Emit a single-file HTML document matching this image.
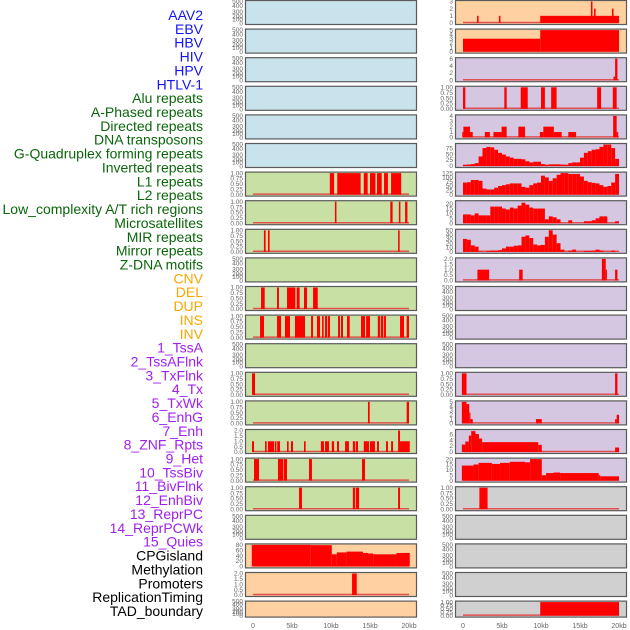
<!DOCTYPE html>
<html><head><meta charset="utf-8">
<style>
html,body{margin:0;padding:0;background:#fff;width:630px;height:630px;overflow:hidden}
svg{display:block}
</style></head>
<body>
<svg id="chart" width="630" height="630" xmlns="http://www.w3.org/2000/svg"></svg>
<script>
// ---------- labels ----------
const blueLabels = ["AAV2","EBV","HBV","HIV","HPV","HTLV-1"];
const greenLabels = ["Alu repeats","A-Phased repeats","Directed repeats","DNA transposons","G-Quadruplex forming repeats","Inverted repeats","L1 repeats","L2 repeats","Low_complexity A/T rich regions","Microsatellites","MIR repeats","Mirror repeats","Z-DNA motifs"];
const orangeLabels = ["CNV","DEL","DUP","INS","INV"];
const purpleLabels = ["1_TssA","2_TssAFlnk","3_TxFlnk","4_Tx","5_TxWk","6_EnhG","7_Enh","8_ZNF_Rpts","9_Het","10_TssBiv","11_BivFlnk","12_EnhBiv","13_ReprPC","14_ReprPCWk","15_Quies"];
const blackLabels = ["CPGisland","Methylation","Promoters","ReplicationTiming","TAD_boundary"];
const xTickValues = [0,5,10,15,20];
const xTickLabels = ["0","5kb","10kb","15kb","20kb"];

// ---------- tick label arrays ----------
const ticksEmpty = ["0","100","200","300","400","500"];
const ticks1 = ["0.00","0.25","0.50","0.75","1.00"];
const ticks2 = ["0.0","0.5","1.0","1.5","2.0"];
const ticks3 = ["0","1","2","3"];
const ticks4 = ["0","1","2","3","4"];
const ticks5 = ["0","1","2","3","4","5"];
const ticks6 = ["0","2","4","6"];
const ticks75 = ["0","25","50","75"];
const ticks125 = ["0","25","50","75","100","125"];
const ticks20 = ["0","5","10","15","20"];
const ticks50 = ["0","10","20","30","40","50"];
const ticks80 = ["0","20","40","60","80"];

// ---------- right-column data: [startKb, endKb, value] ----------
const aav2Segs = [[1.8,2.0,1],[4.6,4.8,1],[9.9,20,1],[16.4,16.6,3],[16.8,17.0,2],[19.1,19.3,2]];
const ebvSegs = [[0,9.9,3],[9.9,20,5]];
const hbvSegs = [[19.3,19.5,1],[19.5,19.8,6]];
const hivSegs = [[0,0.3,1],[5.3,5.6,1],[7.4,8.3,1],[10,10.5,1],[11.3,12,1],[17.2,17.7,1],[19.2,19.7,1]];
const hpvSegs = [[-0.1,0.05,1],[0.05,0.9,2],[0.9,1.25,1],[2.8,3.45,1],[3.9,4.95,1],[4.95,5.6,2],[7.1,7.95,2],[9.85,10.3,1],[10.3,11.65,2],[11.65,12.65,1],[13.5,14.5,1],[19.25,19.7,4],[19.7,19.9,1]];
const g4Profile = [5,6,8,12,40,75,80,78,68,55,48,40,35,30,30,28,20,15,18,18,8,5,7,7,7,6,5,12,15,15,35,55,62,68,70,80,90,90,75,30];
const invertedProfile = [70,72,85,85,80,35,30,30,40,50,55,60,65,65,65,45,40,55,65,70,110,100,80,95,115,125,125,120,120,120,105,80,72,68,65,55,45,50,70,120];
const lowCplxProfile = [9,9,8,10,8,8,8,17,17,17,15,14,16,15,18,21,19,16,15,15,15,4,7,6,4,0,0,3,0,0,0,2,2,3,5,7,7,0,0,2];
const mirProfile = [30,28,15,12,1,0,2,3,3,4,8,12,12,14,15,35,38,32,17,15,16,35,50,40,20,5,0,3,5,0,0,2,2,3,5,3,0,0,3,0];
const zdnaSegs = [[1.85,3.35,1],[7.2,7.65,1],[17.8,18.3,2],[18.3,18.45,1],[19.5,19.8,1]];
const tssaRSegs = [[-0.15,0.45,1],[19.5,19.8,1]];
const txflnkRSegs = [[-0.15,0.45,5],[0.45,0.8,4.5],[0.8,0.95,2.5],[0.95,1.25,1],[9.35,10.1,1],[19.5,19.7,1],[19.7,20,2]];
const enhgRSegs = [[-0.15,0.3,2.5],[0.3,0.75,3.5],[0.75,1.05,5.5],[1.05,1.6,7],[1.6,2.05,6],[2.05,2.45,4.5],[2.45,9.65,3.3],[9.65,10.1,2.4],[19.5,20,1.5]];
const znfRSegs = [[-0.15,1.35,14],[1.35,2.0,15],[2.0,3.7,16.5],[3.7,4.75,15.5],[4.75,6.0,16.5],[6.0,7.95,17.5],[7.95,8.6,17],[8.6,10.1,20],[10.1,10.65,5],[10.65,11.6,7],[11.6,12.45,7.5],[12.45,17.4,7],[17.4,17.6,5],[17.6,20,4]];
const tssbivRSegs = [[2.1,3.15,1]];
const tadSegs = [[9.9,20,1]];

// ---------- left-column data ----------
const l1Segs = [[9.85,10.4,1],[10.8,13.8,1],[14.2,14.7,1],[15.0,15.7,1],[15.9,16.5,1],[16.8,17.3,1],[17.7,19.0,1]];
const l2Segs = [[10.5,10.7,1],[17.6,17.9,1],[18.7,18.9,1],[19.5,19.8,1]];
const lowCplxLSegs = [[1.4,1.62,1],[1.92,2.13,1],[18.6,18.8,1]];
const mirrorSegs = [[1.03,1.5,1],[3.08,3.33,1],[4.36,5.43,1],[5.6,5.98,1],[6.54,6.92,1],[7.7,8.3,1]];
const zdnaLSegs = [[0.9,1.41,1],[3.08,3.6,1],[4.1,4.74,1],[5.38,6.67,1],[7.44,7.7,1],[8.2,8.6,1],[8.85,9.06,1],[9.23,9.5,1],[9.6,9.87,1],[10.9,11.15,1],[11.28,11.54,1],[12.05,12.4,1],[13.85,14.36,1],[14.5,15.0,1],[16.0,16.3,1],[16.4,16.7,1],[16.8,17.05,1],[18.85,19.36,1],[19.7,20,1]];
const tssaLSegs = [[-0.13,0.26,1]];
const txflnkLSegs = [[14.74,14.96,1],[19.7,20,1]];
const enhgLSegs = [[-0.13,0.13,1],[1.54,1.75,1],[1.92,2.7,1],[2.8,3.0,1],[3.1,3.46,1],[4.36,4.57,1],[4.87,5.13,1],[6.54,6.75,1],[8.7,9.1,1],[9.23,9.74,1],[10.1,10.4,1],[10.77,11.03,1],[11.8,12.3,1],[12.8,13.1,1],[13.2,13.46,1],[14.2,14.87,1],[15.0,15.64,1],[15.9,16.15,1],[17.05,17.3,1],[17.7,17.95,1],[18.6,18.85,2],[18.85,20.1,1]];
const enhLSegs = [[0.13,0.77,1],[3.2,3.85,1],[3.93,4.36,1],[7.18,7.56,1],[13.97,14.36,1]];
const znfLSegs = [[5.9,6.28,1],[12.8,13.1,1],[13.2,13.6,1],[18.6,18.85,1]];
const cpgSegs = [[-0.15,7.4,80],[7.4,10.1,79],[10.1,10.75,45],[10.75,12.0,52],[12.0,14.1,55],[14.1,14.75,50],[14.75,15.4,48],[15.4,18.4,45],[18.4,20.1,50]];
const promoterSegs = [[12.7,13.3,2]];

function profileToSegs(p){ const s=[]; for(let i=0;i<p.length;i++){ s.push([i*0.5,i*0.5+0.5,p[i]]); } return s; }

const BG = {blue:"#c8e3eb",peach:"#ffd0a0",lav:"#d5c6e2",green:"#c8e0a3",gray:"#d0d0d0"};
const E = null;
// [leftBg, leftSegs, leftTicks, leftMax, rightBg, rightSegs, rightTicks, rightMax]
const rows = [
 ["blue",E,E,0,"peach",aav2Segs,ticks3,3],
 ["blue",E,E,0,"peach",ebvSegs,ticks5,5],
 ["blue",E,E,0,"lav",hbvSegs,ticks6,6],
 ["blue",E,E,0,"lav",hivSegs,ticks1,1],
 ["blue",E,E,0,"lav",hpvSegs,ticks4,4],
 ["blue",E,E,0,"lav",profileToSegs(g4Profile),ticks75,90],
 ["green",l1Segs,ticks1,1,"lav",profileToSegs(invertedProfile),ticks125,125],
 ["green",l2Segs,ticks1,1,"lav",profileToSegs(lowCplxProfile),ticks20,22],
 ["green",lowCplxLSegs,ticks1,1,"lav",profileToSegs(mirProfile),ticks50,50],
 ["green",E,E,0,"lav",zdnaSegs,ticks2,2],
 ["green",mirrorSegs,ticks1,1,"lav",E,E,0],
 ["green",zdnaLSegs,ticks1,1,"lav",E,E,0],
 ["green",E,E,0,"lav",E,E,0],
 ["green",tssaLSegs,ticks1,1,"lav",tssaRSegs,ticks1,1],
 ["green",txflnkLSegs,ticks1,1,"lav",txflnkRSegs,ticks5,5],
 ["green",enhgLSegs,ticks2,2,"lav",enhgRSegs,ticks6,7.2],
 ["green",enhLSegs,ticks1,1,"lav",znfRSegs,ticks20,20],
 ["green",znfLSegs,ticks1,1,"gray",tssbivRSegs,ticks1,1],
 ["green",E,E,0,"gray",E,E,0],
 ["peach",cpgSegs,ticks80,80,"gray",E,E,0],
 ["peach",promoterSegs,ticks2,2,"gray",E,E,0],
 ["peach",E,E,0,"gray",tadSegs,ticks1,1]
];

const NS="http://www.w3.org/2000/svg";
const svg=document.getElementById("chart");
function mk(tag,attrs,parent){ const e=document.createElementNS(NS,tag); for(const k in attrs) e.setAttribute(k,attrs[k]); (parent||svg).appendChild(e); return e; }

// labels
const labelGroups=[[blueLabels,"#1414f5"],[greenLabels,"#0b660b"],[orangeLabels,"#ffa500"],[purpleLabels,"#a020f0"],[blackLabels,"#000"]];
let li=0;
labelGroups.forEach(g=>{ g[0].forEach(txt=>{
  const t=mk("text",{x:203,y:15+li*13.86+5,"text-anchor":"end","font-family":"Liberation Sans, sans-serif","font-size":"14",fill:g[1]});
  t.textContent=txt;
  
  
  li++;
});});

const PW=172;
function xScale(x0,kb){ return x0+8+kb*7.8; }

function drawPanel(x0,top,h,bg,segs,ticks,ymax,side){
  const g=mk("g",{});
  
  
  mk("rect",{x:x0+0.5,y:top+0.5,width:PW-1,height:h-1,fill:BG[bg],stroke:"#5a5a5a","stroke-width":"1.2"},g);
  const tg=mk("g",{"font-family":"Liberation Sans, sans-serif","font-size":"6.5",fill:"#666","text-anchor":"end"},g);
  
  
  if(!segs){
    const offs=[h-1.5,h-5.5,h-8.5,h-13,h-19,h-23.5];
    const scale=h/25;
    ticksEmpty.forEach((lab,i)=>{
      const yy=top+(i===0?h-1.5:(25-[0,5.5,8.5,13,19,23.5][i])*scale)+2;
      const t=mk("text",{x:x0-2,y:yy},tg); t.textContent=lab;
    });
    return;
  }
  const yb=top+h-2, yt=top+1.5;
  const yS=v=>yb-(v/ymax)*(yb-yt);
  ticks.forEach(lab=>{
    const t=mk("text",{x:x0-2,y:yS(parseFloat(lab))+2.2},tg); t.textContent=lab;
  });
  mk("line",{x1:xScale(x0,0),x2:xScale(x0,20),y1:yb-0.5,y2:yb-0.5,stroke:"#e05050","stroke-width":"1.5"},g);
  segs.forEach(s=>{
    const xa=xScale(x0,s[0]), xb=xScale(x0,s[1]);
    if(s[2]<=0) return;
    const r=mk("rect",{x:xa,y:yS(s[2]),width:Math.max(1.2,xb-xa),height:yb-yS(s[2]),fill:"#ff0000"},g);
    
    
  });
}

rows.forEach((r,i)=>{
  const top=i*28.6; const h=(i===21)?17:25;
  drawPanel(245,top,h,r[0],r[1],r[2],r[3],"left");
  drawPanel(455,top,h,r[4],r[5],r[6],r[7],"right");
});

// x axes
[245,455].forEach(x0=>{
  const g=mk("g",{"font-family":"Liberation Sans, sans-serif","font-size":"7",fill:"#666","text-anchor":"middle"});
  
  
  xTickValues.forEach((v,i)=>{ const t=mk("text",{x:xScale(x0,v),y:628},g); t.textContent=xTickLabels[i]; });
});
</script>
</body></html>
